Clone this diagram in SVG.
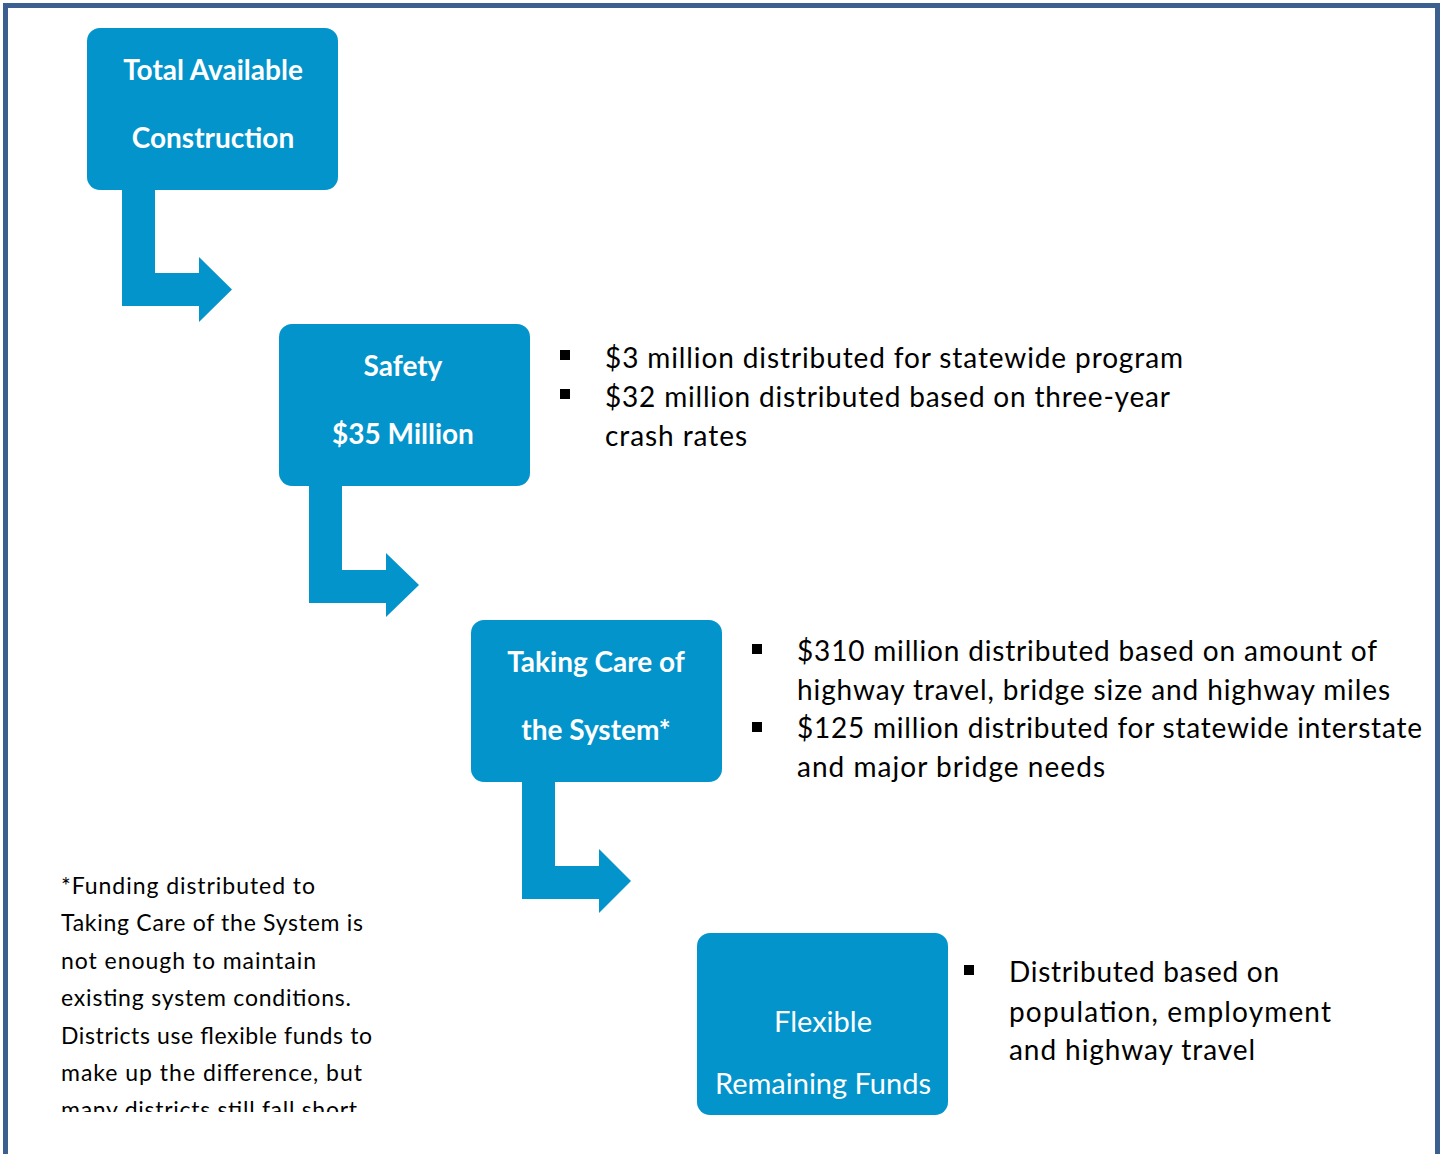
<svg xmlns="http://www.w3.org/2000/svg" width="1443" height="1154" viewBox="0 0 1443 1154">
<defs>
<style>
.box{fill:#0394CC;}
.arr{fill:#0394CC;}
.bt{font-family:Lato,"Open Sans",sans-serif;font-size:28px;font-weight:bold;fill:#fff;text-anchor:middle;}
.rt{font-family:Lato,"Open Sans",sans-serif;font-size:29px;fill:#fff;text-anchor:middle;}
.tx{font-family:Lato,"Open Sans",sans-serif;font-size:28px;fill:#000;}
.fn{font-family:Lato,"Open Sans",sans-serif;font-size:23px;fill:#000;}
.bul{fill:#000;}
</style>
<clipPath id="fnclip"><rect x="40" y="860" width="400" height="252"/></clipPath>
</defs>
<rect x="0" y="0" width="1443" height="1154" fill="#fff"/>
<path d="M5.5,1154 V5.5 H1437.5 V1154" fill="none" stroke="#3B5F8E" stroke-width="5"/>

<g id="connectors">
<path class="arr" d="M122,189 H155 V273 H199 V257 L232,289.5 L199,322 V306 H122 Z"/>
<path class="arr" d="M309,485 H342 V570 H386 V553 L419,585 L386,617 V603 H309 Z"/>
<path class="arr" d="M522,781 H555 V866 H599 V849 L631,881 L599,913 V899 H522 Z"/>
</g>

<g id="node-total">
<rect class="box" x="87" y="28" width="251" height="162" rx="13"/>
<text class="bt" x="213" y="80">Total Available</text>
<text class="bt" x="213" y="148">Construction</text>
</g>

<g id="node-safety">
<rect class="box" x="279" y="324" width="251" height="162" rx="13"/>
<text class="bt" x="403" y="376">Safety</text>
<text class="bt" x="403" y="444">$35 Million</text>
</g>

<g id="node-system">
<rect class="box" x="471" y="620" width="251" height="162" rx="13"/>
<text class="bt" x="596" y="672">Taking Care of</text>
<text class="bt" x="596" y="740">the System*</text>
</g>

<g id="node-flexible">
<rect class="box" x="697" y="933" width="251" height="182" rx="13"/>
<text class="rt" x="823" y="1032">Flexible</text>
<text class="rt" x="823" y="1094">Remaining Funds</text>
</g>

<g id="safety-notes">
<rect class="bul" x="560" y="350" width="10" height="10"/>
<rect class="bul" x="560" y="389" width="10" height="10"/>
<text class="tx" x="605" y="368" textLength="578">$3 million distributed for statewide program</text>
<text class="tx" x="605" y="407" textLength="565">$32 million distributed based on three-year</text>
<text class="tx" x="605" y="446" textLength="142">crash rates</text>
</g>

<g id="system-notes">
<rect class="bul" x="752" y="644" width="10" height="10"/>
<rect class="bul" x="752" y="722" width="10" height="10"/>
<text class="tx" x="797" y="661" textLength="580">$310 million distributed based on amount of</text>
<text class="tx" x="797" y="700" textLength="593">highway travel, bridge size and highway miles</text>
<text class="tx" x="797" y="738" textLength="625">$125 million distributed for statewide interstate</text>
<text class="tx" x="797" y="777" textLength="308">and major bridge needs</text>
</g>

<g id="flexible-notes">
<rect class="bul" x="964" y="965" width="10" height="10"/>
<text class="tx" x="1009" y="982" textLength="270">Distributed based on</text>
<text class="tx" x="1009" y="1022" textLength="322">population, employment</text>
<text class="tx" x="1009" y="1060" textLength="246">and highway travel</text>
</g>

<g id="footnote" clip-path="url(#fnclip)">
<text class="fn" x="61" y="894" textLength="254">*Funding distributed to</text>
<text class="fn" x="61" y="931" textLength="302">Taking Care of the System is</text>
<text class="fn" x="61" y="969" textLength="255">not enough to maintain</text>
<text class="fn" x="61" y="1006" textLength="290">existing system conditions.</text>
<text class="fn" x="61" y="1044" textLength="311">Districts use flexible funds to</text>
<text class="fn" x="61" y="1081" textLength="301">make up the difference, but</text>
<text class="fn" x="61" y="1118" textLength="296">many districts still fall short</text>
</g>
</svg>
